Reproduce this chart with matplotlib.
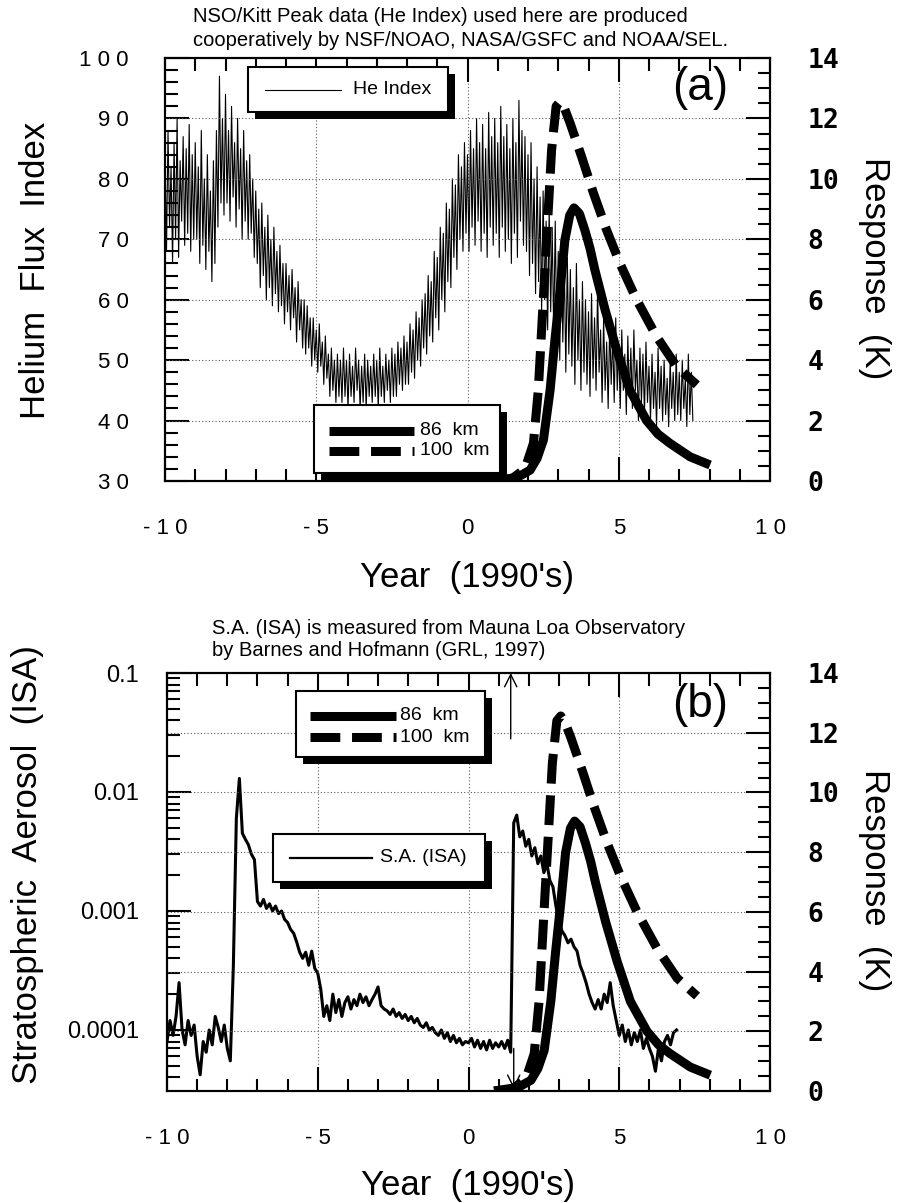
import numpy as np
import matplotlib
matplotlib.use("Agg")
import matplotlib.pyplot as plt
from matplotlib.patches import Rectangle
from matplotlib.lines import Line2D
from matplotlib.ticker import MultipleLocator, FixedLocator, FuncFormatter, LogLocator, NullFormatter

plt.rcParams['font.family'] = ['Liberation Sans', 'DejaVu Sans']

W, H = 900, 1203

# He index, daily high / low read every 0.1 yr from -10.0
he_t0, he_dt = -10.0, 0.1
he_hi = [84, 88, 82, 86, 90, 83, 87, 85, 89, 84,
         86, 82, 88, 80, 84, 78, 83, 88, 97, 90,
         94, 88, 92, 86, 90, 85, 88, 83, 84, 80,
         78, 75, 76, 72, 74, 70, 72, 68, 69, 66,
         66, 64, 65, 62, 63, 60, 60, 59, 57, 57,
         55, 56, 53, 54, 51, 52, 50, 51, 50, 52,
         50, 51, 49, 52, 50, 49, 51, 50, 49, 51,
         50, 52, 49, 51, 50, 52, 51, 53, 52, 54,
         53, 56, 55, 58, 57, 60, 61, 64, 63, 68,
         67, 72, 71, 76, 75, 80, 79, 84, 82, 86,
         84, 88, 85, 90, 86, 89, 85, 91, 87, 90,
         86, 92, 87, 89, 85, 90, 86, 93, 88, 87,
         84, 86, 80, 82, 77, 78, 73, 75, 72, 73,
         68, 70, 66, 67, 65, 62, 66, 60, 63, 60,
         58, 61, 57, 62, 55, 57, 53, 56, 54, 57,
         52, 55, 51, 54, 52, 55, 50, 52, 51, 53,
         49, 51, 48, 52, 49, 50, 47, 50, 48, 51,
         48, 50, 47, 51, 48]
he_lo = [68, 72, 66, 70, 67, 73, 69, 71, 68, 70,
         70, 66, 69, 65, 68, 63, 66, 72, 76, 74,
         76, 73, 77, 72, 75, 70, 73, 70, 71, 67,
         66, 62, 64, 60, 62, 59, 61, 58, 59, 56,
         58, 55, 57, 53, 55, 52, 51, 52, 49, 50,
         48, 49, 46, 47, 44, 45, 43, 44, 43, 44,
         42, 44, 43, 45, 42, 43, 42, 44, 43, 44,
         42, 44, 43, 45, 43, 44, 44, 46, 45, 46,
         46, 48, 47, 50, 49, 52, 51, 54, 53, 57,
         55, 60, 58, 63, 62, 67, 65, 70, 68, 71,
         68, 72, 69, 73, 68, 71, 67, 72, 69, 71,
         67, 72, 68, 70, 66, 71, 67, 73, 69, 68,
         64, 66, 61, 63, 58, 60, 55, 58, 54, 55,
         50, 53, 48, 51, 49, 46, 50, 45, 48, 46,
         44, 47, 45, 48, 43, 45, 42, 46, 43, 45,
         42, 45, 41, 44, 42, 45, 40, 43, 41, 43,
         40, 42, 39, 42, 40, 41, 39, 42, 40, 41,
         40, 42, 39, 41, 40]

# stratospheric aerosol (ISA), units of 1e-4, every 0.1 yr from -10.0
sa_t0, sa_dt = -10.0, 0.1
sa_isa_e4 = [0.8, 1.2, 0.9, 1.3, 2.5, 1.0, 0.75, 1.2, 0.9, 1.1,
             0.6, 0.42, 0.8, 0.65, 1.0, 0.75, 1.3, 1.05, 0.8, 1.1,
             0.7, 0.55, 3.4, 60, 130, 45, 40, 36, 30, 27,
             12, 11, 12.5, 10.5, 11.5, 10, 11, 9.5, 10, 8.5,
             8, 7, 6.5, 5.5, 4.5, 4.0, 4.5, 3.5, 4.6, 3.3,
             3.0, 2.2, 1.3, 1.6, 1.2, 2.0, 1.4, 1.8, 1.3, 1.7,
             1.9, 1.5, 1.8, 1.6, 2.0, 1.7, 1.9, 1.6, 1.8, 2.0,
             2.3, 1.6, 1.5, 1.45, 1.35, 1.5, 1.3, 1.4, 1.25, 1.35,
             1.2, 1.3, 1.15, 1.25, 1.1, 1.05, 1.15, 1.0, 1.05, 0.95,
             0.9, 1.0, 0.85, 0.95, 0.8, 0.9, 0.78, 0.85, 0.75, 0.8,
             0.78, 0.85, 0.72, 0.82, 0.7, 0.8, 0.68, 0.82, 0.7, 0.78,
             0.72, 0.8, 0.7, 0.82, 0.65, 55, 64, 42, 47, 35,
             40, 29, 34, 25, 29, 21, 25, 18, 16, 11,
             8, 6.8, 6.2, 5.4, 5.8, 5.0, 4.6, 3.5, 3.0, 2.5,
             2.0, 1.7, 1.5, 1.8, 1.5, 2.0, 1.7, 2.5, 1.6, 1.2,
             0.9, 1.1, 0.8, 1.0, 0.75, 0.95, 0.8, 1.0, 0.7, 0.85,
             0.7, 0.6, 0.45, 0.7, 0.55, 0.8, 0.9, 0.75, 0.95, 1.0]

# model responses (K)
r86_year = [0.85, 1.3, 1.7, 2.07, 2.3, 2.51, 2.73, 2.89, 3.06, 3.22, 3.38, 3.52,
            3.7, 3.88, 4.05, 4.21, 4.55, 4.93, 5.37, 5.92, 6.3, 6.69, 7.36, 8.02]
r86_k = [0, 0.05, 0.15, 0.36, 0.75, 1.36, 3.0, 4.67, 6.3, 7.98, 8.8, 9.04,
         8.85, 8.3, 7.7, 6.99, 5.66, 4.34, 3.0, 2.0, 1.55, 1.25, 0.8, 0.53]
r100_year = [0.85, 1.5, 1.9, 2.18, 2.34, 2.45, 2.56, 2.67, 2.78, 2.93, 3.06,
             3.2, 3.39, 3.77, 4.16, 4.6, 5.04, 5.59, 6.25, 6.92, 7.58]
r100_k = [0, 0.1, 0.4, 1.25, 3.0, 5.0, 7.0, 8.97, 10.96, 12.4, 12.56,
          12.35, 11.85, 10.74, 9.54, 8.3, 7.2, 6.0, 4.78, 3.78, 3.18]

pinatubo_up = 1.4
pinatubo_down = 1.5

xticks = [-10, -5, 0, 5, 10]
he_ticks = [30, 40, 50, 60, 70, 80, 90, 100]
k_ticks = [0, 2, 4, 6, 8, 10, 12, 14]
sa_ticks = [1e-4, 1e-3, 1e-2, 1e-1]
sa_labels = ['0.0001', '0.001', '0.01', '0.1']

# zigzag between daily highs and lows
he_zig = np.column_stack([he_hi, he_lo]).ravel()
he_year = he_t0 + he_dt / 2 * np.arange(len(he_zig))
sa_year = sa_t0 + sa_dt * np.arange(len(sa_isa_e4))
sa_isa = np.array(sa_isa_e4) * 1e-4


def fx(x):
    return x / W


def fy(y):
    return 1 - y / H


def spaced(v, pos=None):
    return ' '.join(str(int(round(v))))


fig = plt.figure(figsize=(9, 12.03), dpi=100)
ax_a = fig.add_axes([fx(165), fy(481), (770 - 165) / W, (481 - 58) / H])
ax_b = fig.add_axes([fx(167), fy(1091), (770 - 167) / W, (1091 - 673) / H])
ax_a2 = ax_a.twinx()
ax_b2 = ax_b.twinx()

grid_kw = dict(ls=(0, (1, 2)), color='0.35', lw=0.8)

for ax in (ax_a, ax_b):
    ax.set_xlim(-10, 10)
    ax.xaxis.set_major_locator(FixedLocator(xticks))
    ax.xaxis.set_minor_locator(MultipleLocator(1))
    ax.xaxis.set_major_formatter(FuncFormatter(spaced))
    ax.tick_params(axis='x', which='both', direction='in', top=True, width=1.5,
                   pad=27, labelsize=16)
    ax.tick_params(axis='x', which='major', length=17)
    ax.tick_params(axis='x', which='minor', length=9)
    ax.tick_params(axis='y', which='both', direction='in', width=1.5, right=False)
    ax.tick_params(axis='y', which='major', length=17)
    ax.tick_params(axis='y', which='minor', length=9)
    ax.grid(axis='x', which='major', **grid_kw)

for ax2 in (ax_a2, ax_b2):
    ax2.set_ylim(0, 14)
    ax2.yaxis.set_major_locator(FixedLocator(k_ticks))
    ax2.yaxis.set_minor_locator(MultipleLocator(0.5))
    ax2.set_yticklabels([str(k) for k in k_ticks], fontfamily='DejaVu Sans Mono',
                        fontweight='bold', fontsize=19)
    ax2.tick_params(axis='y', which='both', direction='in', width=1.5, pad=27)
    ax2.tick_params(axis='y', which='major', length=17)
    ax2.tick_params(axis='y', which='minor', length=9)
    ax2.grid(axis='y', which='major', **grid_kw)
    ax2.plot(r86_year, r86_k, color='k', lw=6.5, solid_capstyle='butt')
    ax2.plot(r100_year, r100_k, color='k', lw=6.5, dashes=(3.3, 1.3),
             dash_capstyle='butt')

for ax in (ax_a, ax_b, ax_a2, ax_b2):
    for s in ax.spines.values():
        s.set_linewidth(1.5)

# panel (a)
ax_a.set_ylim(30, 100)
ax_a.yaxis.set_major_locator(FixedLocator(he_ticks))
ax_a.yaxis.set_minor_locator(MultipleLocator(2))
ax_a.yaxis.set_major_formatter(FuncFormatter(spaced))
ax_a.tick_params(axis='y', pad=26, labelsize=16)
ax_a.plot(he_year, he_zig, color='k', lw=0.8)

# panel (b)
ax_b.set_yscale('log')
ax_b.set_ylim(3.07e-5, 0.1)
ax_b.yaxis.set_major_locator(FixedLocator(sa_ticks))
ax_b.yaxis.set_major_formatter(FuncFormatter(lambda v, p: dict(zip(sa_ticks, sa_labels)).get(v, '')))
ax_b.yaxis.set_minor_locator(LogLocator(base=10, subs=np.arange(2, 10)))
ax_b.yaxis.set_minor_formatter(NullFormatter())
ax_b.tick_params(axis='y', pad=20, labelsize=17)
ax_b.plot(sa_year, sa_isa, color='k', lw=2.2)

arrow_kw = dict(arrowstyle='->', lw=1.0, color='k', mutation_scale=22, shrinkA=0, shrinkB=0)
ax_b.annotate('', xy=(pinatubo_up, 0.1), xytext=(pinatubo_up, 0.028), arrowprops=arrow_kw)
ax_b.annotate('', xy=(pinatubo_down, 3.2e-5), xytext=(pinatubo_down, 7e-5), arrowprops=arrow_kw)


def shadow_box(x0, y0, x1, y1, d=7):
    w, h = (x1 - x0) / W, (y1 - y0) / H
    fig.add_artist(Rectangle((fx(x0 + d), fy(y1 + d)), w, h, transform=fig.transFigure,
                             facecolor='k', edgecolor='k', lw=0, zorder=5))
    fig.add_artist(Rectangle((fx(x0), fy(y1)), w, h, transform=fig.transFigure,
                             facecolor='white', edgecolor='k', lw=1.5, zorder=6))


def key_line(x0, x1, y, **kw):
    fig.add_artist(Line2D([fx(x0), fx(x1)], [fy(y), fy(y)], transform=fig.transFigure,
                          color='k', zorder=7, **kw))


def key_text(x, y, s):
    fig.text(fx(x), fy(y), s, ha='left', va='center', fontsize=14, zorder=8)


# legends
shadow_box(248, 67, 448, 112)
key_line(265, 341, 90, lw=0.8)
key_text(353, 90, 'He Index')

shadow_box(314, 405, 500, 473)
key_line(329, 414, 431, lw=6.5, solid_capstyle='butt')
key_line(329, 414, 451, lw=6.5, dashes=(3.3, 1.3), dash_capstyle='butt')
key_text(420, 431, '86  km')
key_text(420, 451, '100  km')

shadow_box(296, 691, 485, 757)
key_line(310, 396, 716, lw=6.5, solid_capstyle='butt')
key_line(310, 396, 737, lw=6.5, dashes=(3.3, 1.3), dash_capstyle='butt')
key_text(400, 716, '86  km')
key_text(400, 737, '100  km')

shadow_box(273, 834, 485, 882)
key_line(290, 372, 858, lw=1.6)
key_text(380, 858, 'S.A. (ISA)')

# labels
lab = dict(fontsize=25, ha='center', va='center')
fig.text(fx(36), fy(270), 'Helium  Flux  Index', rotation=90, **lab)
fig.text(fx(467), fy(577), "Year  (1990's)", **lab)
fig.text(fx(875), fy(268), 'Response  (K)', rotation=270, **lab)
fig.text(fx(700), fy(88), '(a)', fontsize=33, ha='center', va='center')

fig.text(fx(28), fy(865), 'Stratospheric  Aerosol  (ISA)', rotation=90, **lab)
fig.text(fx(468), fy(1185), "Year  (1990's)", **lab)
fig.text(fx(875), fy(880), 'Response  (K)', rotation=270, **lab)
fig.text(fx(700), fy(705), '(b)', fontsize=33, ha='center', va='center')

hdr = dict(fontsize=14.5, ha='left', va='center')
fig.text(fx(193), fy(17), 'NSO/Kitt Peak data (He Index) used here are produced', **hdr)
fig.text(fx(193), fy(40), 'cooperatively by NSF/NOAO, NASA/GSFC and NOAA/SEL.', **hdr)
fig.text(fx(212), fy(628), 'S.A. (ISA) is measured from Mauna Loa Observatory', **hdr)
fig.text(fx(212), fy(651), 'by Barnes and Hofmann (GRL, 1997)', **hdr)

fig.savefig('out.png', dpi=100)
